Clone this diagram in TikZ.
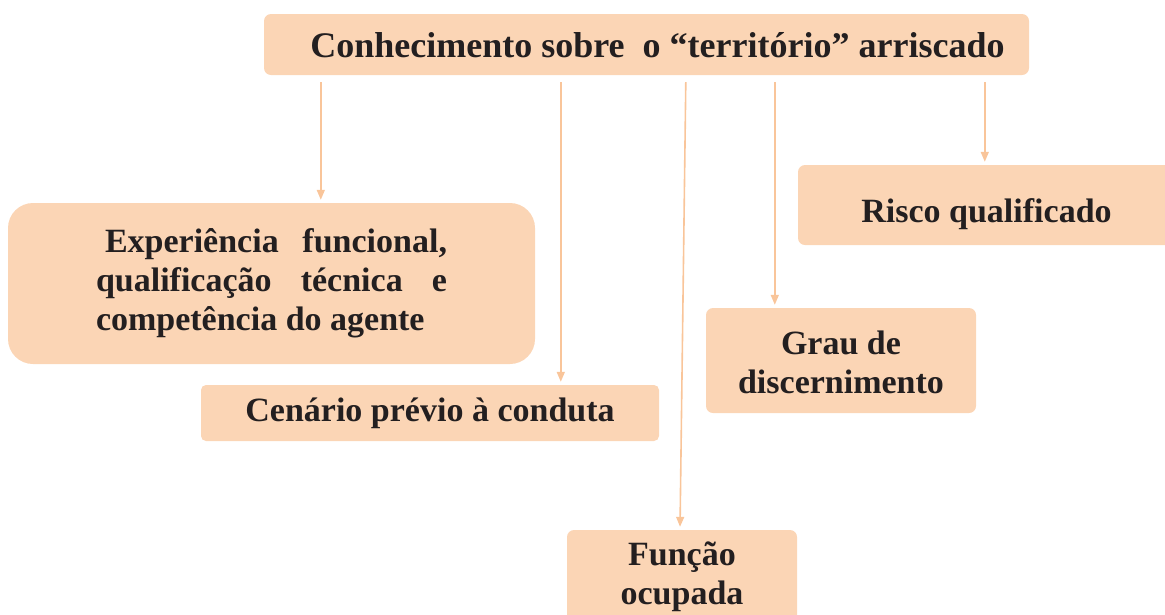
\documentclass[tikz,border=0pt]{standalone}
\usepackage{fontspec}
\setmainfont{Liberation Serif}
\usetikzlibrary{arrows.meta}

\definecolor{boxfill}{HTML}{FBD5B5}
\definecolor{arrowcol}{HTML}{F9C59A}
\definecolor{txt}{HTML}{231F20}

\newcommand{\lowered}[2]{\raisebox{-#1}[0pt][0pt]{#2}}

\tikzset{
	box/.style={fill=boxfill, rounded corners=7pt, inner sep=0pt, align=center, text=txt,
		font=\bfseries\fontsize{34}{39}\selectfont},
	arr/.style={draw=arrowcol, line width=1.6pt, -{Triangle[length=10pt,width=8pt]}, shorten >=3pt}
}

\begin{document}
\begin{tikzpicture}[x=1pt,y=-1pt]
		\useasboundingbox (0,0) rectangle (1165,614);

		\node[box, minimum width=765pt, minimum height=61pt, font=\bfseries\fontsize{36}{40}\selectfont] (terr) at (646.5,44.5) {\hspace*{22pt}\lowered{13pt}{Conhecimento sobre\ \ o ``território'' arriscado}};
		\node[box, minimum width=527pt, minimum height=161pt, rounded corners=25pt] (exp) at (271.5,283.5) {%
			\makebox[351pt][r]{\makebox[342pt][s]{Experiência funcional,}}\\
			\makebox[351pt][s]{qualificação técnica e}\\
			\makebox[351pt][l]{competência do agente}};
		\node[box, minimum width=458pt, minimum height=56pt, rounded corners=5pt] (cen) at (430,413) {Cenário prévio à conduta};
		\node[box, minimum width=230pt, minimum height=94pt] (func) at (682,577) {Função\\ocupada};
		\node[box, minimum width=270pt, minimum height=105pt] (grau) at (841,360.5) {\lowered{13pt}{Grau de}\\\lowered{13pt}{discernimento}};
		\node[box, minimum width=377pt, minimum height=80pt] (risco) at (986.5,205) {\lowered{17pt}{Risco qualificado}};

		% arrows from the title
		\draw[arr] ([shift={(57,7)}]terr.south west) coordinate (a1) -- (a1 |- exp.north);
		\draw[arr] ([shift={(297,7)}]terr.south west) coordinate (a2) -- (a2 |- cen.north);
		\draw[arr] ([shift={(422,7)}]terr.south west) coordinate (a3) -- ([xshift=-2pt]func.north);
		\draw[arr] ([shift={(511,7)}]terr.south west) coordinate (a4) -- (a4 |- grau.north);
		\draw[arr] ([shift={(721,7)}]terr.south west) coordinate (a5) -- (a5 |- risco.north);
\end{tikzpicture}
\end{document}
